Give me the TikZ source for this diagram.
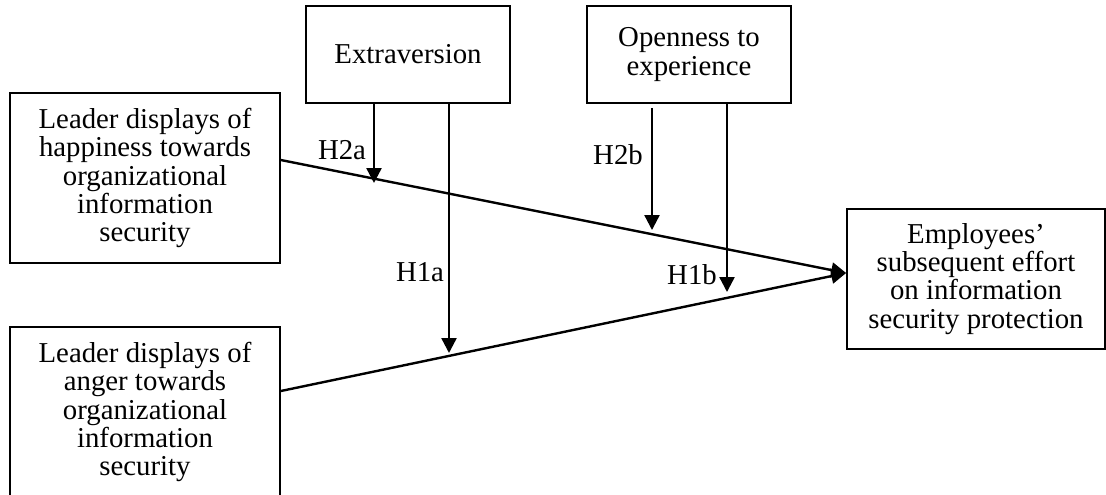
\documentclass[tikz,border=0pt]{standalone}
\usepackage{fontspec}
\setmainfont{Liberation Serif}
\usetikzlibrary{arrows.meta}
\begin{document}
\begin{tikzpicture}[x=0.5pt,y=-0.5pt,
  box/.style={draw, line width=0.85pt, inner sep=0pt, align=center,
              font=\fontsize{14.4}{14.1}\selectfont},
  conn/.style={line width=1.2pt, -{Triangle[length=7.5pt,width=7.5pt]}},
  lab/.style={font=\fontsize{14.4}{14.1}\selectfont, inner sep=0pt}]
\useasboundingbox (0,0) rectangle (1106,494);

\node[box, minimum width=135pt, minimum height=85pt] (happy) at (145,178)
  {Leader displays of\\happiness towards\\organizational\\information\\security};
\node[box, minimum width=135pt, minimum height=85pt] (anger) at (145,412)
  {Leader displays of\\anger towards\\organizational\\information\\security};
\node[box, minimum width=102pt, minimum height=48.5pt] (extra) at (408,54.5)
  {Extraversion};
\node[box, minimum width=102pt, minimum height=48.5pt] (open) at (689,54.5)
  {Openness to\\experience};
\node[box, minimum width=129pt, minimum height=70pt] (emp) at (976,279)
  {Employees’\\subsequent effort\\on information\\security protection};

\coordinate (tip) at ([yshift=3pt]emp.west);
\coordinate (hstart) at ([yshift=9pt]happy.east);
\coordinate (astart) at ([yshift=10.5pt]anger.east);
\draw[conn] (hstart) -- (tip);
\draw[conn] (astart) -- (tip);

\coordinate (h2aend) at (374,183);
\coordinate (h1aend) at (449,353);
\coordinate (h2bend) at (652,230);
\coordinate (h1bend) at (727,292);
\draw[conn] (extra.south -| h2aend) -- (h2aend);
\draw[conn] (extra.south -| h1aend) -- (h1aend);
\draw[conn] ([yshift=-2pt]open.south -| h2bend) -- (h2bend);
\draw[conn] (open.south -| h1bend) -- (h1bend);

\node[lab] (l2a) at (342,150) {H2a};
\node[lab] (l1a) at (420,272) {H1a};
\node[lab] (l2b) at (618,155) {H2b};
\node[lab] (l1b) at (692,275) {H1b};
\end{tikzpicture}
\end{document}
